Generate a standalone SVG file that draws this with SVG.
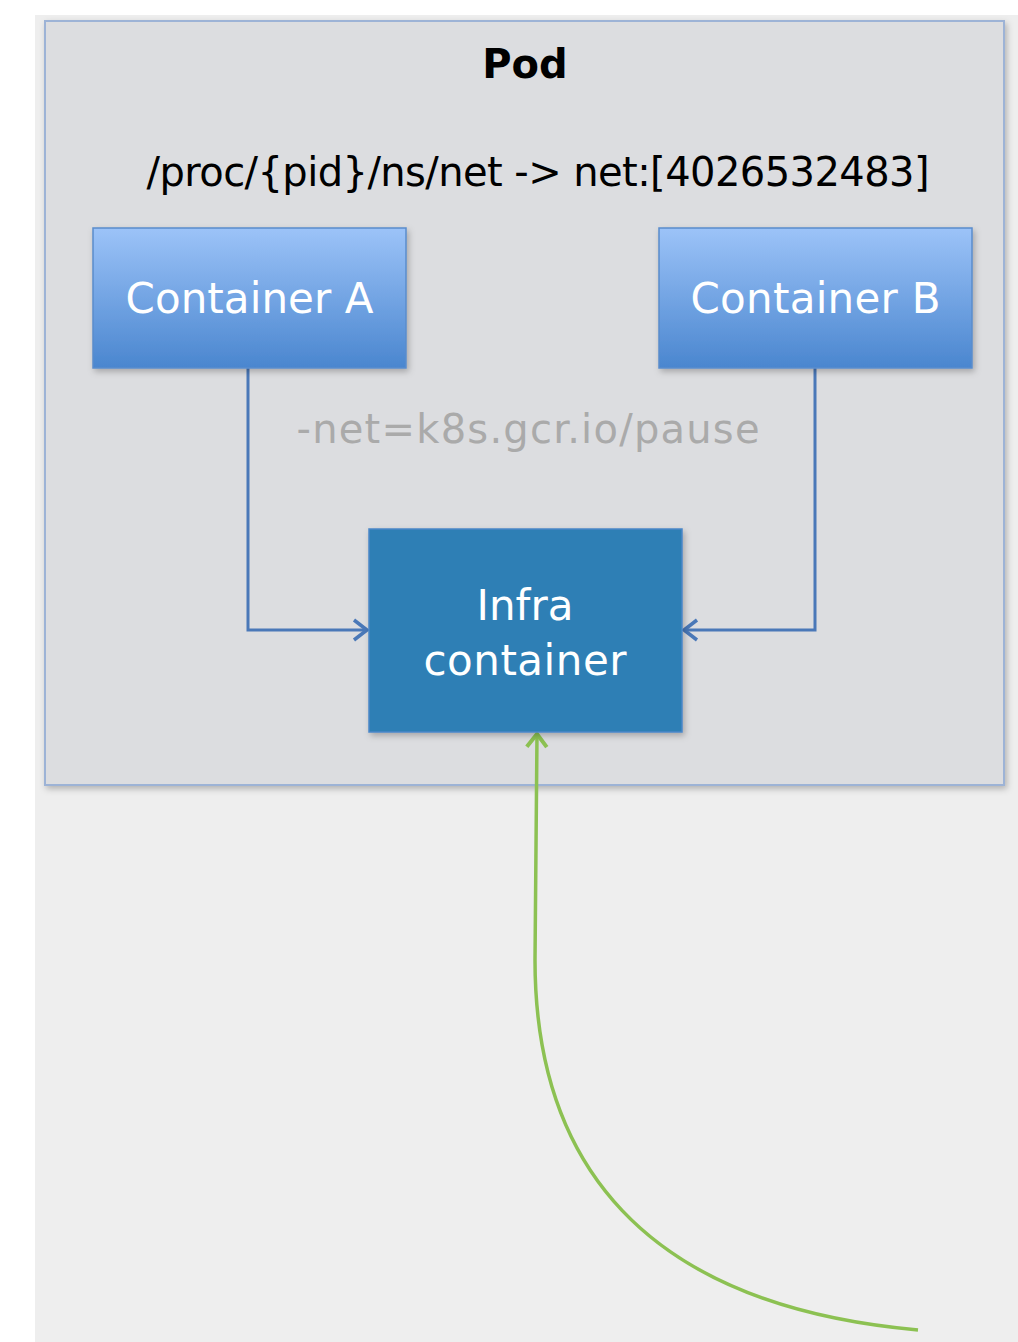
<svg xmlns="http://www.w3.org/2000/svg" width="1018" height="1342" viewBox="0 0 1018 1342">
<style>
.lbl{font-family:"DejaVu Sans","Noto Sans",sans-serif;}
.node-text{fill:#ffffff;font-size:42px;text-anchor:middle;}
.conn{fill:none;stroke:#4a78b8;stroke-width:3;}
</style>
<defs>
<linearGradient id="gBlue" x1="0" y1="0" x2="0" y2="1">
<stop offset="0" stop-color="#9cc3f8"/>
<stop offset="1" stop-color="#4a86cf"/>
</linearGradient>
<filter id="sh" x="-10%" y="-10%" width="130%" height="130%">
<feDropShadow dx="2" dy="3" stdDeviation="3" flood-color="#000" flood-opacity="0.25"/>
</filter>
<marker id="arrBlue" markerWidth="18" markerHeight="26" refX="15" refY="12" orient="auto" markerUnits="userSpaceOnUse" viewBox="0 0 18 24">
<path d="M2,2 L15,12 L2,22" fill="none" stroke="#4a78b8" stroke-width="3.5" stroke-linejoin="miter"/>
</marker>
<marker id="arrGreen" markerWidth="18" markerHeight="26" refX="15" refY="12" orient="auto" markerUnits="userSpaceOnUse" viewBox="0 0 18 24">
<path d="M2,2 L15,12 L2,22" fill="none" stroke="#8cc152" stroke-width="4" stroke-linejoin="miter"/>
</marker>
</defs>
<rect x="0" y="0" width="1018" height="1342" fill="#ffffff"/>
<rect x="35" y="15" width="983" height="1327" fill="#eeeeee"/>
<g id="pod">
<rect x="45" y="21" width="959" height="764" fill="#dcdde0" stroke="#9db3d6" stroke-width="2" filter="url(#sh)"/>
<text class="lbl" x="525" y="78" font-size="40" font-weight="bold" text-anchor="middle" fill="#000">Pod</text>
<text class="lbl" x="538" y="186" font-size="40" text-anchor="middle" fill="#000" textLength="783">/proc/{pid}/ns/net -&gt; net:[4026532483]</text>
<text class="lbl" x="528" y="443" font-size="40" text-anchor="middle" fill="#aaaaaa" textLength="463">-net=k8s.gcr.io/pause</text>
</g>
<g id="connectors">
<polyline class="conn" points="248,368 248,630 367,630" marker-end="url(#arrBlue)"/>
<polyline class="conn" points="815,368 815,630 684,630" marker-end="url(#arrBlue)"/>
<path d="M918,1330 C640,1305 535,1160 535,960 C535,880 536,800 537,734" fill="none" stroke="#8cc152" stroke-width="3.5" marker-end="url(#arrGreen)"/>
</g>
<g id="containerA">
<rect x="93" y="228" width="313" height="140" fill="url(#gBlue)" stroke="#5a8ccc" stroke-width="1.5" filter="url(#sh)"/>
<text class="lbl node-text" x="249.5" y="313" textLength="248">Container A</text>
</g>
<g id="containerB">
<rect x="659" y="228" width="313" height="140" fill="url(#gBlue)" stroke="#5a8ccc" stroke-width="1.5" filter="url(#sh)"/>
<text class="lbl node-text" x="815.5" y="313" textLength="250">Container B</text>
</g>
<g id="infra">
<rect x="369" y="529" width="313" height="203" fill="#2f7fb5" stroke="#4a86c8" stroke-width="1.5" filter="url(#sh)"/>
<text class="lbl node-text" x="525" y="620" textLength="97">Infra</text>
<text class="lbl node-text" x="525" y="675" textLength="203">container</text>
</g>
</svg>
